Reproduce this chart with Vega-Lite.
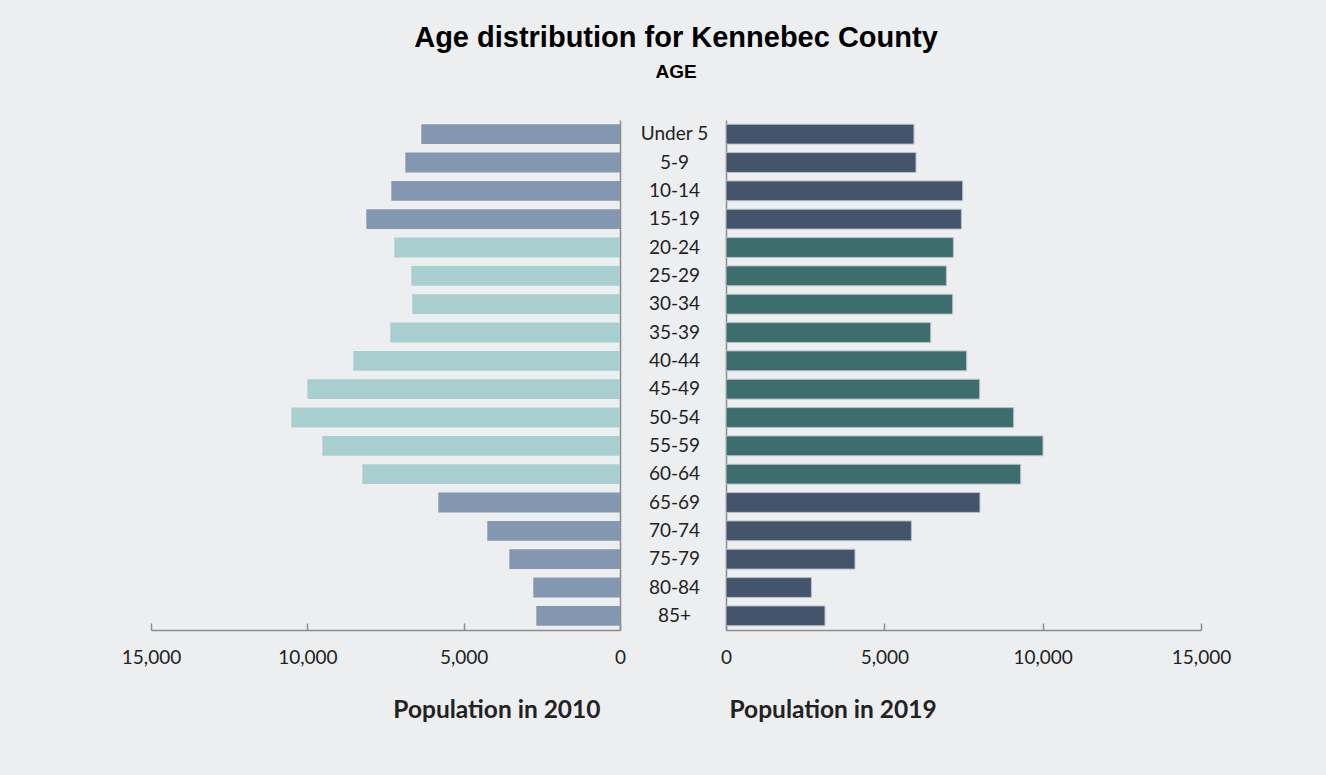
{
  "$schema": "https://vega.github.io/schema/vega-lite/v6.json",
  "background": "#ECEEF0",
  "padding": {"left": 121, "top": 24, "right": 97, "bottom": 59},
  "title": {
    "text": "Age distribution for Kennebec County",
    "subtitle": "AGE",
    "font": "Liberation Sans",
    "fontSize": 29,
    "fontWeight": "bold",
    "color": "#000000",
    "subtitleFont": "Liberation Sans",
    "subtitleFontSize": 19,
    "subtitleFontWeight": "bold",
    "subtitleColor": "#000000",
    "subtitlePadding": 10,
    "offset": 38,
    "anchor": "middle"
  },
  "datasets": {
    "pop": [
      {"age": "Under 5", "p2010": 6355, "p2019": 5936, "band": "A"},
      {"age": "5-9", "p2010": 6866, "p2019": 6000, "band": "A"},
      {"age": "10-14", "p2010": 7314, "p2019": 7474, "band": "A"},
      {"age": "15-19", "p2010": 8113, "p2019": 7433, "band": "A"},
      {"age": "20-24", "p2010": 7218, "p2019": 7180, "band": "B"},
      {"age": "25-29", "p2010": 6674, "p2019": 6959, "band": "B"},
      {"age": "30-34", "p2010": 6642, "p2019": 7158, "band": "B"},
      {"age": "35-39", "p2010": 7346, "p2019": 6464, "band": "B"},
      {"age": "40-44", "p2010": 8529, "p2019": 7600, "band": "B"},
      {"age": "45-49", "p2010": 10000, "p2019": 8011, "band": "B"},
      {"age": "50-54", "p2010": 10512, "p2019": 9084, "band": "B"},
      {"age": "55-59", "p2010": 9520, "p2019": 10010, "band": "B"},
      {"age": "60-64", "p2010": 8241, "p2019": 9305, "band": "B"},
      {"age": "65-69", "p2010": 5811, "p2019": 8020, "band": "A"},
      {"age": "70-74", "p2010": 4244, "p2019": 5854, "band": "A"},
      {"age": "75-79", "p2010": 3540, "p2019": 4073, "band": "A"},
      {"age": "80-84", "p2010": 2773, "p2019": 2697, "band": "A"},
      {"age": "85+", "p2010": 2677, "p2019": 3126, "band": "A"}
    ]
  },
  "bounds": "flush",
  "spacing": 106,
  "resolve": {"scale": {"color": "independent", "x": "independent", "y": "shared"}},
  "config": {
    "view": {"stroke": null},
    "axis": {
      "labelFont": "Lato",
      "labelColor": "#222222",
      "titleFont": "Lato",
      "titleColor": "#222222",
      "domainColor": "#8C8C8C",
      "domainWidth": 1.5,
      "tickColor": "#8C8C8C",
      "tickWidth": 1.5,
      "grid": false
    }
  },
  "hconcat": [
    {
      "width": 469,
      "height": 510,
      "data": {"name": "pop"},
      "mark": {"type": "bar"},
      "encoding": {
        "y": {
          "field": "age", "type": "nominal", "sort": null,
          "scale": {"paddingInner": 0.3, "paddingOuter": 0.15},
          "axis": {"orient": "right", "labels": false, "ticks": false, "title": null, "domain": true}
        },
        "x": {
          "field": "p2010", "type": "quantitative",
          "scale": {"domain": [0, 15000], "nice": false, "reverse": true},
          "axis": {
            "values": [0, 5000, 10000, 15000],
            "format": ",.0f",
            "title": "Population in 2010",
            "titleFontSize": 24.5,
            "titleFontWeight": "bold",
            "titleAnchor": "start",
            "titleAlign": "right",
            "titleX": 449,
            "titlePadding": 31,
            "labelFontSize": 19,
            "labelPadding": 25,
            "tickSize": -7,
            "labelFlush": false
          }
        },
        "color": {
          "field": "band", "type": "nominal",
          "scale": {"domain": ["A", "B"], "range": ["#8497B0", "#A9CED0"]},
          "legend": null
        }
      }
    },
    {
      "width": 475,
      "height": 510,
      "data": {"name": "pop"},
      "mark": {"type": "bar", "stroke": "#B8C0CC", "strokeWidth": 1},
      "encoding": {
        "y": {
          "field": "age", "type": "nominal", "sort": null,
          "scale": {"paddingInner": 0.3, "paddingOuter": 0.15},
          "axis": {
            "orient": "left", "ticks": false, "title": null, "domain": true,
            "labelAlign": "center", "labelPadding": 52,
            "labelFont": "Lato", "labelFontSize": 19
          }
        },
        "x": {
          "field": "p2019", "type": "quantitative",
          "scale": {"domain": [0, 15000], "nice": false},
          "axis": {
            "values": [0, 5000, 10000, 15000],
            "format": ",.0f",
            "title": "Population in 2019",
            "titleFontSize": 24.5,
            "titleFontWeight": "bold",
            "titleAnchor": "start",
            "titleX": 3,
            "titleAlign": "left",
            "titlePadding": 31,
            "labelFontSize": 19,
            "labelPadding": 25,
            "tickSize": -7,
            "labelFlush": false
          }
        },
        "color": {
          "field": "band", "type": "nominal",
          "scale": {"domain": ["A", "B"], "range": ["#44546A", "#3D6E6D"]},
          "legend": null
        }
      }
    }
  ]
}
